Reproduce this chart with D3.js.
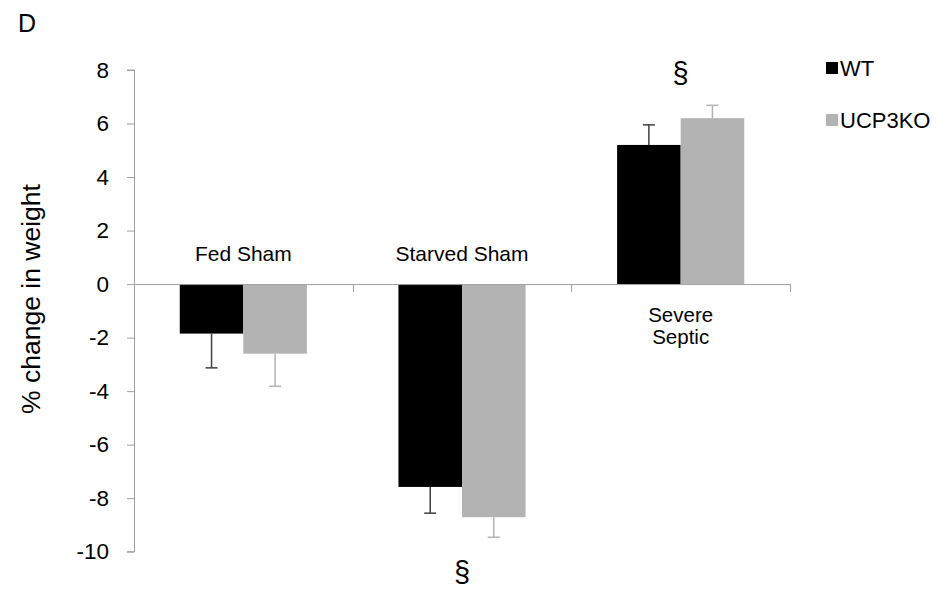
<!DOCTYPE html>
<html><head><meta charset="utf-8">
<script src="https://cdn.jsdelivr.net/npm/d3@7"></script>
<style>body{margin:0;background:#fff}svg{display:block;font-family:"Liberation Sans",Arial,sans-serif}</style>
</head><body><svg id="c" width="950" height="594"></svg>
<script>
const categories = ["Fed Sham", "Starved Sham", "Severe Septic"];
const categoryLines = [["Fed Sham"], ["Starved Sham"], ["Severe", "Septic"]];
const seriesNames = ["WT", "UCP3KO"];
const wtValues = [-1.85, -7.58, 5.2];
const wtErrors = [1.28, 0.98, 0.75];
const koValues = [-2.6, -8.71, 6.2];
const koErrors = [1.22, 0.75, 0.48];
const yTicks = [-10, -8, -6, -4, -2, 0, 2, 4, 6, 8];
const significance = ["", "§", "§"];

const colors = {WT: "#000000", UCP3KO: "#b3b3b3"};
const errColors = {WT: "#404040", UCP3KO: "#b3b3b3"};

const svg = d3.select("#c");
const m = {left: 134};
const y = d3.scaleLinear().domain([-10, 8]).range([551.7, 70]);
const x0 = d3.scaleBand().domain(categories).range([m.left, 790]).paddingInner(0).paddingOuter(0);
const x1 = d3.scaleBand().domain(seriesNames).range([0, x0.bandwidth()]).paddingInner(0).paddingOuter(0.72);

const data = [];
categories.forEach((c, i) => {
  data.push({cat: c, s: "WT", v: wtValues[i], e: wtErrors[i]});
  data.push({cat: c, s: "UCP3KO", v: koValues[i], e: koErrors[i]});
});

// y axis
const yAxis = svg.append("g").attr("transform", `translate(${m.left},0)`)
  .call(d3.axisLeft(y).tickValues(yTicks).tickSize(7).tickPadding(18).tickFormat(d3.format("d")));
yAxis.select(".domain").attr("stroke", "#a0a0a0").attr("d", `M-7,${y(8)}H0.5V${y(-10)}H-7`);
yAxis.selectAll(".tick line").attr("stroke", "#a0a0a0");
yAxis.selectAll(".tick text").attr("font-size", 22.5).attr("fill", "#000")
  .attr("font-family", '"Liberation Sans",Arial,sans-serif').text(d => d < 0 ? "-" + Math.abs(d) : d);

// bars
svg.append("g").selectAll("rect").data(data).join("rect")
  .attr("x", d => x0(d.cat) + x1(d.s))
  .attr("width", x1.bandwidth())
  .attr("y", d => Math.min(y(d.v), y(0)))
  .attr("height", d => Math.abs(y(d.v) - y(0)))
  .attr("fill", d => colors[d.s]);

// error bars
const eb = svg.append("g").selectAll("g").data(data).join("g");
eb.append("line")
  .attr("x1", d => x0(d.cat) + x1(d.s) + x1.bandwidth() / 2)
  .attr("x2", d => x0(d.cat) + x1(d.s) + x1.bandwidth() / 2)
  .attr("y1", d => y(d.v))
  .attr("y2", d => y(d.v + Math.sign(d.v) * d.e))
  .attr("stroke", d => errColors[d.s]).attr("stroke-width", 1.5);
eb.append("line")
  .attr("x1", d => x0(d.cat) + x1(d.s) + x1.bandwidth() / 2 - 6)
  .attr("x2", d => x0(d.cat) + x1(d.s) + x1.bandwidth() / 2 + 6)
  .attr("y1", d => y(d.v + Math.sign(d.v) * d.e))
  .attr("y2", d => y(d.v + Math.sign(d.v) * d.e))
  .attr("stroke", d => errColors[d.s]).attr("stroke-width", 1.5);

// x axis at zero
const xg = svg.append("g");
xg.append("line").attr("x1", m.left).attr("x2", 790).attr("y1", y(0) + 0.5).attr("y2", y(0) + 0.5)
  .attr("stroke", "#a0a0a0");
const bounds = categories.map(c => x0(c)).concat([x0.range()[1]]);
xg.selectAll(".xt").data(bounds).join("line").attr("class", "xt")
  .attr("x1", d => Math.round(d) + 0.5).attr("x2", d => Math.round(d) + 0.5)
  .attr("y1", y(0)).attr("y2", y(0) + 8).attr("stroke", "#a0a0a0");

// category labels
categories.forEach((c, i) => {
  const cx = x0(c) + x0.bandwidth() / 2;
  const neg = wtValues[i] < 0;
  const lines = categoryLines[i];
  const t = svg.append("text").attr("text-anchor", "middle").attr("font-size", neg ? 21 : 20.5).attr("fill", "#000");
  lines.forEach((ln, j) => {
    t.append("tspan").attr("x", cx)
      .attr("y", neg ? y(0) - 23 : y(0) + 38 + j * 22)
      .text(ln);
  });
});

// significance markers
categories.forEach((c, i) => {
  if (!significance[i]) return;
  const cx = x0(c) + x0.bandwidth() / 2;
  const neg = wtValues[i] < 0;
  const ext = neg ? Math.min(wtValues[i] - wtErrors[i], koValues[i] - koErrors[i])
                  : Math.max(wtValues[i] + wtErrors[i], koValues[i] + koErrors[i]);
  svg.append("text").attr("text-anchor", "middle").attr("font-size", 29).attr("fill", "#000")
    .attr("x", cx).attr("y", neg ? y(ext) + 45 : y(ext) - 22)
    .text(significance[i]);
});

// y label
svg.append("text").attr("transform", `translate(40,299) rotate(-90)`)
  .attr("text-anchor", "middle").attr("font-size", 26.5).attr("fill", "#000")
  .text("% change in weight");

// panel letter
svg.append("text").attr("x", 18).attr("y", 32).attr("font-size", 25).attr("fill", "#000").text("D");

// legend
const lg = svg.append("g").selectAll("g").data(seriesNames).join("g")
  .attr("transform", (d, i) => `translate(826,${62 + i * 52})`);
lg.append("rect").attr("width", 12).attr("height", 12).attr("fill", d => colors[d]);
lg.append("text").attr("x", 14).attr("y", 14).attr("font-size", 22).attr("fill", "#000").text(d => d);
</script></body></html>
